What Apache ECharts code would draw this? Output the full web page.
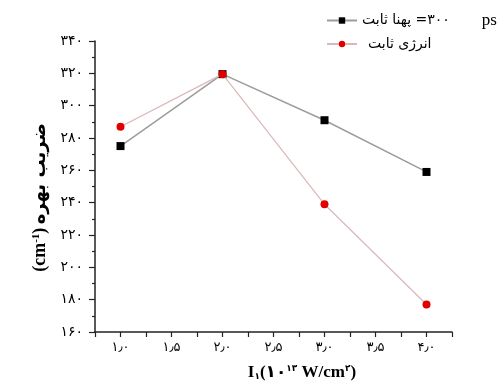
<!DOCTYPE html>
<html>
<head>
<meta charset="utf-8">
<script src="https://cdn.jsdelivr.net/npm/echarts@6/dist/echarts.min.js"></script>
<style>
  html, body { margin: 0; padding: 0; background: #fff; }
  #chart { width: 502px; height: 387px; }
</style>
</head>
<body>
<div id="chart"></div>
<script>
// Intensity I1 (×10^13 W/cm^2)
const intensity = [1.0, 2.0, 3.0, 4.0];
// Gain coefficient (cm^-1), constant pulse width = 300 ps
const gainConstWidth = [275, 319.5, 291, 259];
// Gain coefficient (cm^-1), constant energy
const gainConstEnergy = [287, 319.5, 239, 177];

const seriesNames = ['width', 'energy'];

const faDigits = '۰۱۲۳۴۵۶۷۸۹';
function toFa(s) {
  return String(s).replace(/[0-9]/g, d => faDigits[+d]);
}

const chart = echarts.init(document.getElementById('chart'), null, { renderer: 'canvas' });

const labelFont = 'Liberation Serif, DejaVu Sans, serif';
const faFont = 'DejaVu Sans, sans-serif';

chart.setOption({
  animation: false,
  backgroundColor: '#ffffff',
  grid: { left: 95, right: 50, top: 41, bottom: 55, containLabel: false },
  legend: {
    orient: 'vertical',
    left: 321,
    top: 7,
    itemWidth: 30,
    itemHeight: 8,
    itemGap: 8,
    data: seriesNames,
    formatter: function (name) {
      if (name === 'width') {
        return '{fa|پهنا ثابت}{n| =' + toFa(300) + '}{ps|ps}';
      }
      return '{fa2|انرژی ثابت}';
    },
    textStyle: {
      color: '#000',
      rich: {
        fa: { fontFamily: faFont, fontSize: 14, color: '#000' },
        fa2: { fontFamily: faFont, fontSize: 14, color: '#000', padding: [0, 0, 0, 6] },
        n: { fontFamily: faFont, fontSize: 14, color: '#000' },
        ps: { fontFamily: 'Liberation Serif', fontSize: 17, color: '#000', padding: [0, 0, 0, 32] }
      }
    }
  },
  xAxis: {
    type: 'value',
    min: 0.75,
    max: 4.25,
    interval: 0.25,
    name: '{b|I}{sub|۱}{b|(۱۰}{sup|۱۳}{b| W/cm}{sup|۲}{b|)}',
    nameLocation: 'middle',
    nameGap: 32,
    nameTextStyle: {
      padding: [0, 0, 0, 57],
      rich: {
        b: { fontFamily: labelFont, fontSize: 17, fontWeight: 'bold', color: '#000' },
        sub: { fontFamily: faFont, fontSize: 9, fontWeight: 'bold', color: '#000', verticalAlign: 'bottom', padding: [6, 0, 0, 0] },
        sup: { fontFamily: faFont, fontSize: 9, fontWeight: 'bold', color: '#000', verticalAlign: 'top', padding: [0, 0, 8, 0] }
      }
    },
    axisLine: { show: true, onZero: false, lineStyle: { color: '#222', width: 1.5 } },
    axisTick: { show: true, inside: false, length: 5, lineStyle: { color: '#222', width: 1.2 } },
    splitLine: { show: false },
    axisLabel: {
      margin: 9,
      color: '#000',
      fontFamily: faFont,
      fontSize: 13,
      showMinLabel: true,
      showMaxLabel: true,
      formatter: function (v) {
        if (Math.abs(v * 2 - Math.round(v * 2)) > 1e-9) return '';
        return toFa(v.toFixed(1)).replace('.', '٫');
      }
    }
  },
  yAxis: {
    type: 'value',
    min: 160,
    max: 340,
    interval: 20,
    name: '{a|(cm}{sup|-1}{a|)} {fa|ضریب بهره}',
    nameLocation: 'middle',
    nameGap: 44,
    nameRotate: 90,
    nameTextStyle: {
      padding: [0, 22, 0, 0],
      rich: {
        a: { fontFamily: labelFont, fontSize: 18, fontWeight: 'bold', color: '#000' },
        sup: { fontFamily: labelFont, fontSize: 11, fontWeight: 'bold', color: '#000', verticalAlign: 'top', padding: [0, 0, 9, 0] },
        fa: { fontFamily: faFont, fontSize: 18, fontWeight: 'bold', color: '#000' }
      }
    },
    axisLine: { show: true, onZero: false, lineStyle: { color: '#222', width: 1.5 } },
    axisTick: { show: true, inside: false, length: 6, lineStyle: { color: '#222', width: 1.2 } },
    minorTick: { show: true, splitNumber: 2, length: 3, lineStyle: { color: '#222', width: 1.2 } },
    splitLine: { show: false },
    axisLabel: {
      margin: 12,
      color: '#000',
      fontFamily: faFont,
      fontSize: 14,
      formatter: function (v) { return toFa(v); }
    }
  },
  series: [
    {
      name: seriesNames[0],
      type: 'line',
      data: intensity.map((x, i) => [x, gainConstWidth[i]]),
      symbol: 'rect',
      symbolSize: 8,
      itemStyle: { color: '#000' },
      lineStyle: { color: '#9c9c9c', width: 1.5 },
      z: 2
    },
    {
      name: seriesNames[1],
      type: 'line',
      data: intensity.map((x, i) => [x, gainConstEnergy[i]]),
      symbol: 'circle',
      symbolSize: 8,
      itemStyle: { color: '#e00000' },
      lineStyle: { color: '#dbb7b7', width: 1.2 },
      z: 3
    }
  ]
});
</script>
</body>
</html>
